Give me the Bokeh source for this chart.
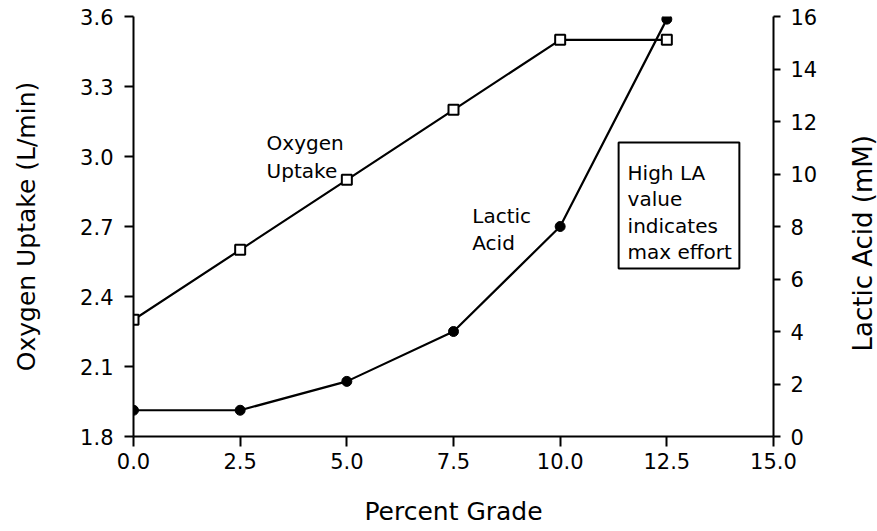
import math
from bokeh.plotting import figure
from bokeh.layouts import row
from bokeh.models import Range1d, LinearAxis, FixedTicker, NumeralTickFormatter, Label, BoxAnnotation
from bokeh.embed import file_html
from bokeh.resources import INLINE

# ---- data ----
grade = [0.0, 2.5, 5.0, 7.5, 10.0, 12.5]
oxygen_uptake = [2.30, 2.60, 2.90, 3.20, 3.50, 3.50]      # L/min (left axis)
lactic_acid = [1.0, 1.0, 2.1, 4.0, 8.0, 15.9]              # mM (right axis)

x_ticks = [0.0, 2.5, 5.0, 7.5, 10.0, 12.5, 15.0]
o2_ticks = [1.8, 2.1, 2.4, 2.7, 3.0, 3.3, 3.6]
la_ticks = [0, 2, 4, 6, 8, 10, 12, 14, 16]

FONT = "DejaVu Sans"
TICK_SIZE = "21px"
LABEL_SIZE = "25px"
NOTE_SIZE = "20px"

p = figure(width=848, height=531, output_backend="svg", toolbar_location=None,
           x_range=Range1d(0, 15), y_range=Range1d(1.8, 3.6),
           min_border_left=133, min_border_right=75, min_border_top=16, min_border_bottom=95)
p.outline_line_color = None
p.grid.visible = False
p.extra_y_ranges = {"la": Range1d(0, 16)}


def style_axis(ax, tick_out, standoff, label_standoff):
    ax.axis_line_color = "black"
    ax.axis_line_width = 2
    ax.major_tick_line_color = "black"
    ax.major_tick_line_width = 2
    ax.major_tick_in = 0
    ax.major_tick_out = tick_out
    ax.minor_tick_line_color = None
    ax.major_label_standoff = standoff
    ax.major_label_text_font = FONT
    ax.major_label_text_font_size = TICK_SIZE
    ax.major_label_text_color = "black"
    ax.axis_label_text_font = FONT
    ax.axis_label_text_font_size = LABEL_SIZE
    ax.axis_label_text_font_style = "normal"
    ax.axis_label_text_color = "black"
    ax.axis_label_standoff = label_standoff


xa = p.xaxis[0]
xa.ticker = FixedTicker(ticks=x_ticks)
xa.formatter = NumeralTickFormatter(format="0.0")
xa.axis_label = "Percent Grade"
style_axis(xa, 10, 6, 25)

ya = p.yaxis[0]
ya.ticker = FixedTicker(ticks=o2_ticks)
ya.formatter = NumeralTickFormatter(format="0.0")
ya.axis_label = "Oxygen Uptake (L/min)"
style_axis(ya, 9, 11, 36)

ra = LinearAxis(y_range_name="la", ticker=FixedTicker(ticks=la_ticks),
                formatter=NumeralTickFormatter(format="0"))
style_axis(ra, 7, 10, 30)
p.add_layout(ra, "right")

# ---- series ----
p.line(grade, oxygen_uptake, line_color="black", line_width=2.2)
p.scatter(grade, oxygen_uptake, marker="square", size=10, fill_color="white",
          line_color="black", line_width=2)

p.line(grade, lactic_acid, line_color="black", line_width=2.2, y_range_name="la")
p.scatter(grade, lactic_acid, marker="circle", size=10, fill_color="black",
          line_color="black", y_range_name="la")

# ---- annotations ----
def note(x, y, txt):
    p.add_layout(Label(x=x, y=y, text=txt, text_font=FONT, text_font_size=NOTE_SIZE,
                       text_color="black", text_baseline="alphabetic", text_align="left"))

note(3.12, 3.056, "Oxygen")
note(3.12, 2.94, "Uptake")
note(7.94, 2.747, "Lactic")
note(7.94, 2.631, "Acid")

p.add_layout(BoxAnnotation(left=11.37, right=14.2, bottom=2.52, top=3.06,
                           fill_color=None, fill_alpha=0, line_color="black",
                           line_alpha=1.0, line_width=2))
for i, t in enumerate(["High LA", "value", "indicates", "max effort"]):
    note(11.58, 2.931 - i * 0.114, t)

# ---- right-axis title (reads bottom-to-top), in a narrow strip beside the plot ----
p2 = figure(width=29, height=531, output_backend="svg", toolbar_location=None,
            x_range=Range1d(0, 1), y_range=Range1d(0, 1),
            min_border_left=0, min_border_right=0, min_border_top=0, min_border_bottom=0)
p2.axis.visible = False
p2.grid.visible = False
p2.outline_line_color = None
p2.add_layout(Label(x=0.5, y=0.46, text="Lactic Acid (mM)", angle=math.pi / 2,
                    text_font=FONT, text_font_size="26px", text_color="black",
                    text_align="center", text_baseline="middle"))

layout = row(p, p2, spacing=0)
open("out.html", "w").write(file_html(layout, INLINE))
